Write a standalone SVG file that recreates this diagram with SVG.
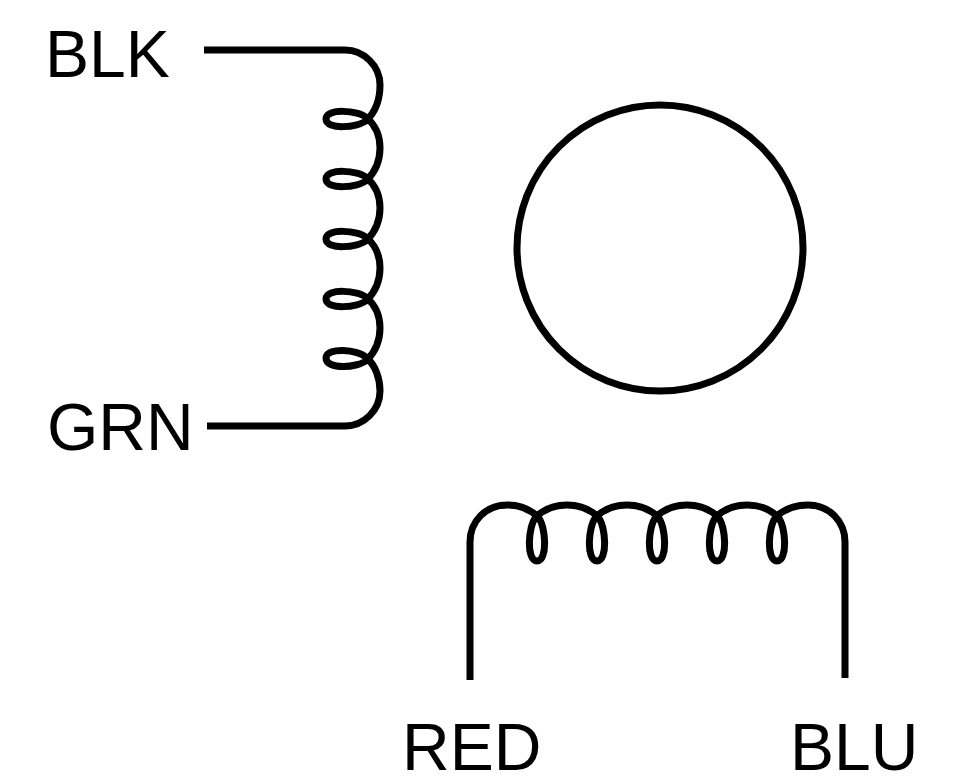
<svg xmlns="http://www.w3.org/2000/svg" width="973" height="779" viewBox="0 0 973 779">
<style>
.w{fill:none;stroke:#000;stroke-width:7;stroke-linecap:butt;stroke-linejoin:round}
text{font-family:"Liberation Sans",Arial,sans-serif;font-size:66px;fill:#000}
</style>
<rect width="973" height="779" fill="#fff"/>
<g id="rotor"><circle class="w" cx="660" cy="248" r="143"/></g>
<g id="connectors">
<path id="coil-a" class="w" d="M204 50H345C364 50 380 66 380 85C380 100 375 112 367 120C358 128 326 130 326 119C326 108 358 110 367 118C375 125 380 135 380 148C380 161 375 172 367 180C358 188 326 190 326 179C326 168 358 170 367 178C375 185 380 195 380 208C380 221 375 232 367 240C358 248 326 250 326 239C326 228 358 230 367 238C375 245 380 255 380 268C380 281 375 292 367 300C358 308 326 310 326 299C326 288 358 290 367 298C375 305 380 315 380 328C380 341 375 352 367 360C358 368 326 370 326 358C326 347 358 349 367 358C375 365 380 378 380 391C380 410 364 426 345 426H207"/>
<path id="coil-b" class="w" d="M470 680V542C470 521 486 505 507 505C520 505 530 509 538 517C546 526 548 561 537 561C526 561 528 526 536 517C544 509 554 505 567 505C580 505 590 509 598 517C606 526 608 561 597 561C586 561 588 526 596 517C604 509 614 505 627 505C640 505 650 509 658 517C666 526 668 561 657 561C646 561 648 526 656 517C664 509 674 505 687 505C700 505 710 509 718 517C726 526 728 561 717 561C706 561 708 526 716 517C724 509 734 505 747 505C760 505 770 509 778 517C786 526 788 561 777 561C766 561 768 526 776 517C784 509 794 505 808 505C829 505 845 521 845 542V678"/>
</g>
<g id="label-blk"><text x="45" y="77">BLK</text></g>
<g id="label-grn"><text x="47" y="450">GRN</text></g>
<g id="label-red"><text x="402" y="770">RED</text></g>
<g id="label-blu"><text x="790" y="770">BLU</text></g>
</svg>
